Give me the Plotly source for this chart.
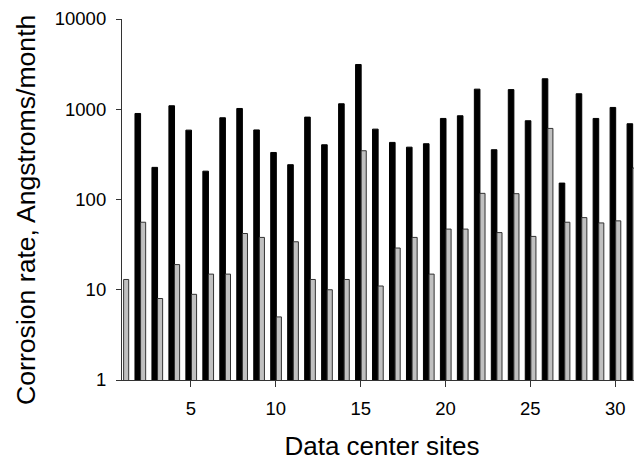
import plotly.graph_objects as go

sites = list(range(1, 32))
black_vals = [None, 898, 227, 1093, 587, 206, 805, 1020, 590, 332, 243, 818, 404, 1150, 3133,
              602, 429, 380, 415, 791, 847, 1670, 356, 1650, 746, 2177, 152, 1485, 791, 1047, 691]
gray_vals = [13.0, 56, 8.0, 19, 8.9, 14.9, 14.9, 42, 38, 5.0, 34, 13, 10, 13, 347,
             11, 29, 38, 14.9, 47, 47, 117, 43, 116, 39, 613, 56, 63, 55, 58, 223]
x_ticks = [5, 10, 15, 20, 25, 30]
y_ticks = [1, 10, 100, 1000, 10000]
y_ticklabels = ["1", "10", "100", "1000", "10000"]
x_title = "Data center sites"
y_title = "Corrosion rate, Angstroms/month"

FONT = "Liberation Sans, Arial, sans-serif"
PAGE = 8  # default body margin of the html page

fig = go.Figure()
fig.add_trace(go.Bar(x=sites, y=black_vals, offset=-0.30, width=0.33,
                     marker=dict(color="#000000", line=dict(color="#000000", width=1)),
                     showlegend=False))
fig.add_trace(go.Bar(x=sites, y=gray_vals, offset=0.03, width=0.30,
                     marker=dict(color="#c0c0c0", line=dict(color="#333333", width=1)),
                     showlegend=False))

fig.update_layout(
    width=642 - PAGE, height=463 - PAGE,
    margin=dict(l=121.7 - PAGE, r=0, t=19.3 - PAGE, b=82.5, autoexpand=False),
    paper_bgcolor="white", plot_bgcolor="white",
    barmode="overlay",
    font=dict(family=FONT, size=18.5, color="#000000"),
    xaxis=dict(
        range=[0.935, 31.58], tickmode="array", tickvals=x_ticks,
        ticks="outside", ticklen=6, tickwidth=1, tickcolor="#333333",
        showline=True, linecolor="#333333", linewidth=1.2,
        showgrid=False, zeroline=False,
        tickfont=dict(size=18.5), ticklabelstandoff=6,
        title=dict(text=x_title, font=dict(size=26), standoff=18),
    ),
    yaxis=dict(
        type="log", range=[0, 4], tickmode="array", tickvals=y_ticks, ticktext=y_ticklabels,
        ticks="outside", ticklen=5, tickwidth=1, tickcolor="#333333",
        showline=True, linecolor="#333333", linewidth=1.2,
        showgrid=False, zeroline=False,
        tickfont=dict(size=18.5), ticklabelstandoff=6,
    ),
    annotations=[dict(
        text=y_title, textangle=-90, showarrow=False,
        xref="paper", yref="paper", x=-0.186, y=0.472,
        xanchor="center", yanchor="middle",
        font=dict(size=26.6, family=FONT, color="#000000"),
    )],
)

fig.write_html("out.html")
